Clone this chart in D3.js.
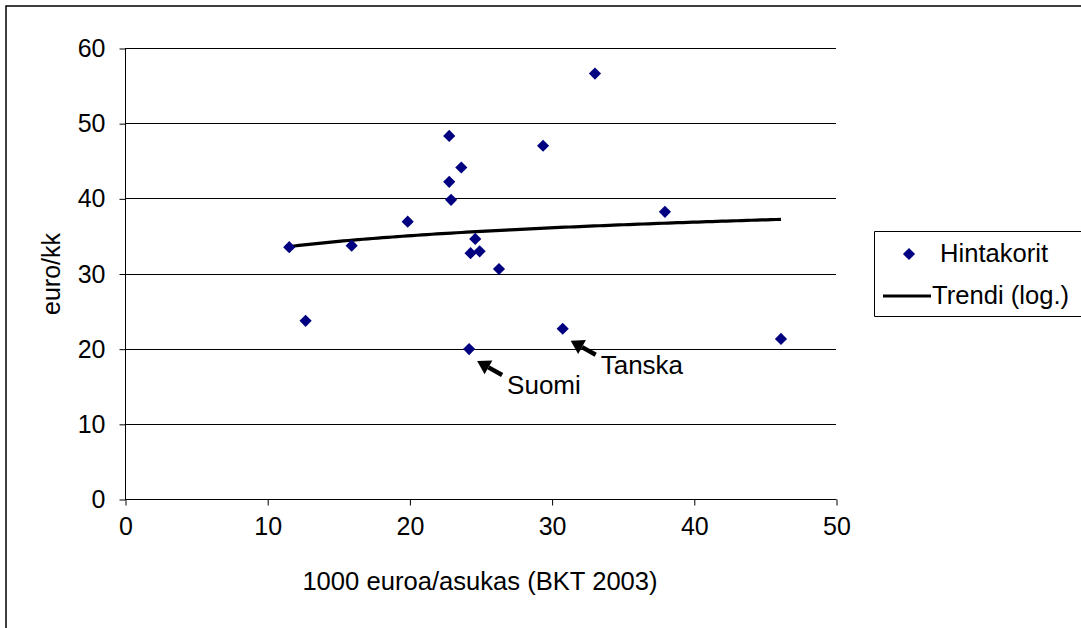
<!DOCTYPE html>
<html>
<head>
<meta charset="utf-8">
<script src="https://cdn.jsdelivr.net/npm/d3@7"></script>
<style>
  html, body { margin: 0; padding: 0; background: #fff; overflow: hidden; }
  svg { display: block; font-family: "Liberation Sans", Arial, sans-serif; }
</style>
</head>
<body>
<svg id="chart" width="1081" height="628"></svg>
<script>
// ---- data ----
const gdpPerCapita = [11.55, 12.7, 15.94, 19.88, 22.8, 22.8, 23.65, 22.93, 24.63, 24.3, 24.94, 26.3, 24.2, 29.4, 33.05, 30.78, 37.97, 46.13];
const basketPrice  = [33.5, 23.7, 33.7, 36.9, 48.3, 42.2, 44.1, 39.8, 34.6, 32.7, 32.95, 30.6, 19.95, 47.0, 56.6, 22.65, 38.2, 21.3];
const xTicks = [0, 10, 20, 30, 40, 50];
const yTicks = [0, 10, 20, 30, 40, 50, 60];
const seriesNames = ["Hintakorit", "Trendi (log.)"];
const xTitle = "1000 euroa/asukas (BKT 2003)";
const yTitle = "euro/kk";
const annotations = [
  { label: "Suomi", index: 12 },
  { label: "Tanska", index: 15 }
];

// ---- layout ----
const svg = d3.select("#chart");
const plot = { left: 125, right: 836, top: 48, bottom: 499 };
const x = d3.scaleLinear().domain([0, 50]).range([plot.left, plot.right]);
const y = d3.scaleLinear().domain([0, 60]).range([plot.bottom, plot.top]);
const markerColor = "#000080";
const font = '"Liberation Sans", Arial, sans-serif';

// outer frame (right/bottom fall outside the canvas)
svg.append("path").attr("d", "M6,700 V6 H1200")
  .attr("fill", "none").attr("stroke", "#000").attr("stroke-width", 1.5);

// gridlines
svg.append("g").selectAll("line").data(yTicks.filter(d => d > 0)).join("line")
  .attr("x1", plot.left).attr("x2", plot.right)
  .attr("y1", d => Math.round(y(d)) + 0.5).attr("y2", d => Math.round(y(d)) + 0.5)
  .attr("stroke", "#000").attr("stroke-width", 1);

// axes
const yAxis = d3.axisLeft(y).tickValues(yTicks).tickSize(6).tickPadding(14).tickFormat(d3.format("d"));
const gy = svg.append("g").attr("transform", `translate(${plot.left + 0.5},0.5)`).call(yAxis);
const xAxis = d3.axisBottom(x).tickValues(xTicks).tickSize(6).tickPadding(12).tickFormat(d3.format("d"));
const gx = svg.append("g").attr("transform", `translate(0.5,${plot.bottom + 0.5})`).call(xAxis);
[gx, gy].forEach(g => {
  g.select(".domain").remove();
  g.selectAll(".tick line").attr("stroke", "#000");
  g.selectAll(".tick text").attr("font-size", 25).attr("fill", "#000").attr("font-family", font);
});
svg.append("line").attr("x1", plot.left + 0.5).attr("x2", plot.left + 0.5)
  .attr("y1", plot.top).attr("y2", plot.bottom).attr("stroke", "#000");
svg.append("line").attr("x1", plot.left).attr("x2", plot.right + 0.5)
  .attr("y1", plot.bottom + 0.5).attr("y2", plot.bottom + 0.5).attr("stroke", "#000");

// axis titles
svg.append("text").attr("x", 480).attr("y", 590)
  .attr("text-anchor", "middle").attr("font-size", 25.6).text(xTitle);
svg.append("text").attr("transform", "translate(60,274) rotate(-90)")
  .attr("text-anchor", "middle").attr("font-size", 25).text(yTitle);

// logarithmic trend (least squares on ln x)
const lx = gdpPerCapita.map(Math.log);
const mlx = d3.mean(lx), my = d3.mean(basketPrice);
const slope = d3.sum(lx, (v, i) => (v - mlx) * (basketPrice[i] - my)) / d3.sum(lx, v => (v - mlx) ** 2);
const intercept = my - slope * mlx;
const [xmin, xmax] = d3.extent(gdpPerCapita);
const trendPts = d3.range(0, 101).map(i => {
  const xv = xmin + (xmax - xmin) * i / 100;
  return [xv, intercept + slope * Math.log(xv)];
});
svg.append("path").datum(trendPts)
  .attr("d", d3.line().x(d => x(d[0])).y(d => y(d[1])))
  .attr("fill", "none").attr("stroke", "#000").attr("stroke-width", 3.2);

// points
const diamond = d3.symbol().type(d3.symbolSquare).size(74);
svg.append("g").selectAll("path").data(gdpPerCapita.map((v, i) => [v, basketPrice[i]])).join("path")
  .attr("d", diamond)
  .attr("transform", d => `translate(${x(d[0])},${y(d[1])}) rotate(45)`)
  .attr("fill", markerColor);

// annotations with arrows
annotations.forEach(a => {
  const px = x(gdpPerCapita[a.index]), py = y(basketPrice[a.index]);
  const hx = px + 8, hy = py + 12;          // arrow tip
  const tx = px + 33, ty = py + 26;         // arrow tail
  const ang = Math.atan2(hy - ty, hx - tx);
  const L = 13, W = 8;
  const bx = hx - L * Math.cos(ang), by = hy - L * Math.sin(ang);
  svg.append("line").attr("x1", tx).attr("y1", ty).attr("x2", bx).attr("y2", by)
    .attr("stroke", "#000").attr("stroke-width", 4.5);
  svg.append("path")
    .attr("d", `M${hx},${hy} L${bx + W * Math.sin(ang)},${by - W * Math.cos(ang)} L${bx - W * Math.sin(ang)},${by + W * Math.cos(ang)} Z`)
    .attr("fill", "#000");
  svg.append("text").attr("x", px + 38).attr("y", py + 45)
    .attr("font-size", 26).text(a.label);
});

// legend
const lg = svg.append("g");
lg.append("path").attr("d", "M1200,231.5 H874.5 V316.5 H1200")
  .attr("fill", "#fff").attr("stroke", "#000");
lg.append("path").attr("d", diamond).attr("transform", "translate(909,254) rotate(45)").attr("fill", markerColor);
lg.append("text").attr("x", 940).attr("y", 262).attr("font-size", 25.6).text(seriesNames[0]);
lg.append("line").attr("x1", 883).attr("x2", 931).attr("y1", 296).attr("y2", 296)
  .attr("stroke", "#000").attr("stroke-width", 3.2);
lg.append("text").attr("x", 932).attr("y", 304).attr("font-size", 25.6).text(seriesNames[1]);
</script>
</body>
</html>
